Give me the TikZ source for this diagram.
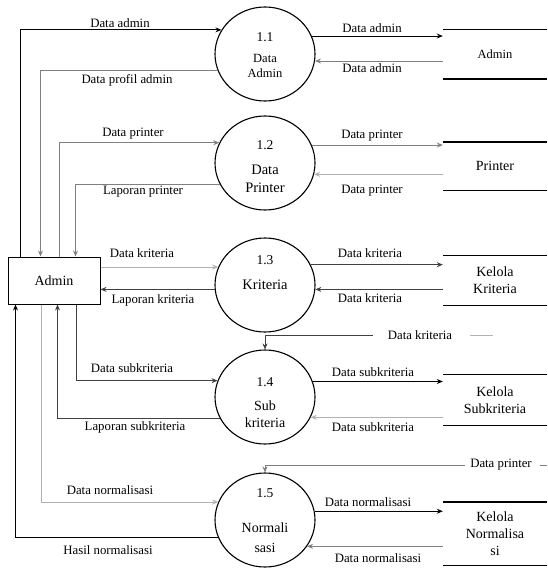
\documentclass[tikz,border=0pt]{standalone}
\usepackage{fontspec}
\setmainfont{Liberation Serif}
\usetikzlibrary{arrows.meta,shapes.geometric}
\definecolor{inkdark}{gray}{0.25}
\definecolor{inkmid}{gray}{0.5}
\definecolor{inklight}{gray}{0.7}
\begin{document}
\begin{tikzpicture}[x=1pt,y=-1pt,
  proc/.style={ellipse,draw,line width=1.1pt,minimum width=100pt,minimum height=94pt,inner sep=0pt},
  store/.style={minimum width=104pt,inner sep=0pt,align=center,font=\fontsize{14}{17}\selectfont},
  edge/.style={line width=0.9pt},
  flow/.style={edge,-{Stealth[length=6pt,width=5pt]}},
  lbl/.style={font=\fontsize{12.8}{14}\selectfont,inner sep=0pt},
  numtxt/.style={font=\fontsize{13.5}{16}\selectfont,inner sep=0pt},
  nametxt/.style={align=center,inner sep=0pt,font=\fontsize{14.5}{18}\selectfont},
]
\useasboundingbox (0,0) rectangle (547,570);

% external entity
\node[draw,line width=1pt,minimum width=92pt,minimum height=47pt,inner sep=0pt,
      font=\fontsize{14}{16}\selectfont] (admin) at (54,280.5) {Admin};

% processes
\node[proc] (p1) at (265,54) {};
\node[proc] (p2) at (265,163) {};
\node[proc] (p3) at (265,285) {};
\node[proc] (p4) at (265,397) {};
\node[proc] (p5) at (265,520) {};

\node[numtxt] (n1) at (265,37) {1.1};
\node[nametxt,font=\fontsize{12.5}{15}\selectfont] (m1) at (265,66) {Data\\Admin};
\node[numtxt] (n2) at (265,145) {1.2};
\node[nametxt] (m2) at (265,179) {Data\\Printer};
\node[numtxt] (n3) at (265,260) {1.3};
\node[nametxt] (m3) at (265,285) {Kriteria};
\node[numtxt] (n4) at (265,382) {1.4};
\node[nametxt,font=\fontsize{14}{17}\selectfont] (m4) at (265,414) {Sub\\kriteria};
\node[numtxt] (n5) at (265,493) {1.5};
\node[nametxt,font=\fontsize{14}{20}\selectfont] (m5) at (265,538) {Normali\\sasi};

% data stores
\node[store,minimum height=49pt,font=\fontsize{12.5}{15}\selectfont] (s1) at (495,54.5) {Admin};
\node[store,minimum height=48pt] (s2) at (495,166) {Printer};
\node[store,minimum height=49pt] (s3) at (495,280.5) {Kelola\\Kriteria};
\node[store,minimum height=50pt] (s4) at (495,400) {Kelola\\Subkriteria};
\node[store,minimum height=63pt] (s5) at (495,533.5) {Kelola\\Normalisa\\si};

\draw[edge] (s1.north west) -- (s1.north east);
\draw[line width=1.8pt] (s1.south west) -- (s1.south east);
\draw[line width=1.6pt] (s2.north west) -- (s2.north east);
\draw[edge] (s2.south west) -- (s2.south east);
\draw[line width=1.2pt] (s3.north west) -- (s3.north east);
\draw[line width=1.2pt] (s3.south west) -- (s3.south east);
\draw[edge] (s4.north west) -- (s4.north east);
\draw[line width=1.2pt] (s4.south west) -- (s4.south east);
\draw[line width=1.6pt] (s5.north west) -- (s5.north east);
\draw[edge] (s5.south west) -- (s5.south east);

% 1.1 Data Admin
\draw[flow] ([xshift=13pt]admin.north west) |- (p1.151);
\draw[flow,inkmid] (p1.199) -| ([xshift=33pt]admin.north west);
\draw[flow] (p1.21) -- (p1.21 -| s1.west);
\draw[flow,inkmid] (p1.-8 -| s1.west) -- (p1.-8);
\node[lbl] (l1a) at (120,23) {Data admin};
\node[lbl] (l1b) at (127,80) {Data profil admin};
\node[lbl] (l1c) at (372,28) {Data admin};
\node[lbl] (l1d) at (372,68) {Data admin};

% 1.2 Data Printer
\draw[flow,inkmid] ([xshift=52pt]admin.north west) |- (p2.156);
\draw[flow,inkmid] (p2.206) -| ([xshift=68pt]admin.north west);
\draw[flow,inkmid] (p2.21) -- (p2.21 -| s2.west);
\draw[flow,inklight] (p2.-13 -| s2.west) -- (p2.-13);
\node[lbl] (l2a) at (133,134) {Data printer};
\node[lbl] (l2b) at (143,192) {Laporan printer};
\node[lbl] (l2c) at (372,136) {Data printer};
\node[lbl] (l2d) at (372,191) {Data printer};

% 1.3 Kriteria
\draw[flow,inklight] (p3.159 -| admin.east) -- (p3.159);
\draw[flow,inkdark] (p3.185) -- (p3.185 -| admin.east);
\draw[flow,inkdark] (p3.24) -- (p3.24 -| s3.west);
\draw[flow,inkdark] (p3.-5 -| s3.west) -- (p3.-5);
\node[lbl] (l3a) at (142,253) {Data kriteria};
\node[lbl] (l3b) at (153,300) {Laporan kriteria};
\node[lbl] (l3c) at (370,253) {Data kriteria};
\node[lbl] (l3d) at (370,298) {Data kriteria};

% kriteria feed into 1.4
\coordinate (dkA) at (373,335);
\coordinate (dkB) at (470,335);
\coordinate (dkC) at (493,335);
\draw[flow,inkdark] (dkA) -| (p4.north);
\draw[edge,inklight] (dkB) -- (dkC);
\node[lbl] (l4k) at (420,335) {Data kriteria};

% 1.4 Sub kriteria
\draw[flow,inkdark] ([xshift=69pt]admin.south west) |- (p4.161);
\draw[flow,inkdark] (p4.205) -| ([xshift=50pt]admin.south west);
\draw[flow] (p4.18) -- (p4.18 -| s4.west);
\draw[flow,inklight] (p4.-24 -| s4.west) -- (p4.-24);
\node[lbl] (l4a) at (132,368) {Data subkriteria};
\node[lbl] (l4b) at (135,427) {Laporan subkriteria};
\node[lbl] (l4c) at (373,372) {Data subkriteria};
\node[lbl] (l4d) at (373,427) {Data subkriteria};

% printer feed into 1.5
\coordinate (dpA) at (465,465);
\coordinate (dpB) at (540,465);
\coordinate (dpC) at (547,465);
\draw[flow,inkmid] (dpA) -| (p5.north);
\draw[edge,inkmid] (dpB) -- (dpC);
\node[lbl] (l5p) at (501,465) {Data printer};

% 1.5 Normalisasi
\draw[flow,inklight] ([xshift=34pt]admin.south west) |- (p5.159);
\draw[flow] (p5.200) -| ([xshift=8pt]admin.south west);
\draw[flow] (p5.10) -- (p5.10 -| s5.west);
\draw[flow,inkmid] (p5.-32 -| s5.west) -- (p5.-32);
\node[lbl] (l5a) at (110,490) {Data normalisasi};
\node[lbl] (l5b) at (108,550) {Hasil normalisasi};
\node[lbl] (l5c) at (368,502) {Data normalisasi};
\node[lbl] (l5d) at (378,558) {Data normalisasi};
\end{tikzpicture}
\end{document}
